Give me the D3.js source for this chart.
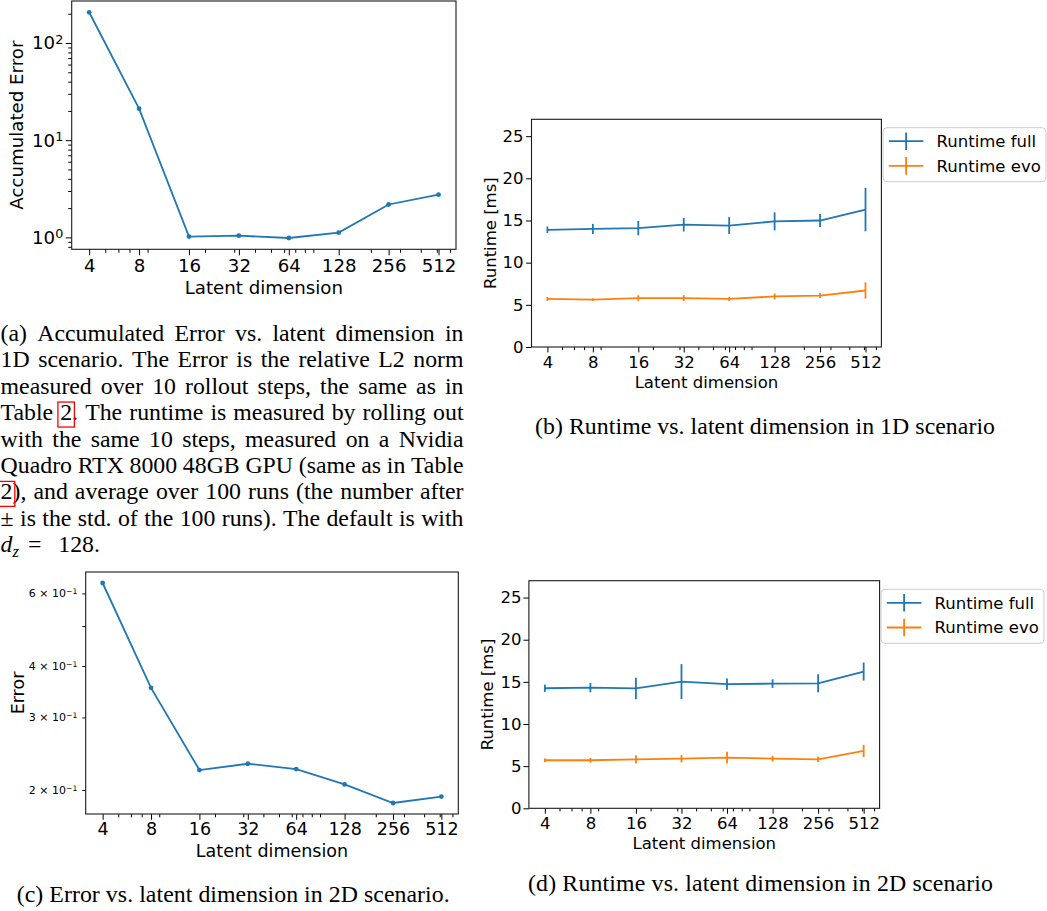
<!DOCTYPE html>
<html>
<head>
<meta charset="utf-8">
<script src="https://cdn.jsdelivr.net/npm/d3@7"></script>
<style>
  html, body { margin: 0; padding: 0; background: #fff; }
  svg { display: block; }
  .caption { font-family: "Liberation Serif", "Times New Roman", serif; fill: #000; }
</style>
</head>
<body>
<svg id="fig" width="1047" height="911"></svg>
<script>
// Latent-dimension ablation: error (log) and runtime (with std bars), 1D and 2D.

// --- data ---
const dims = [4, 8, 16, 32, 64, 128, 256, 512];
const dimLabels = ["4", "8", "16", "32", "64", "128", "256", "512"];

const accErr1D = [207, 21.1, 1.02, 1.04, 0.985, 1.12, 2.18, 2.75];
const err2D = [0.636, 0.354, 0.2236, 0.2316, 0.2248, 0.2064, 0.186, 0.1928];

const runFull1D = [13.9, 14.0, 14.1, 14.5, 14.4, 14.9, 15.0, 16.3];
const runFull1DStd = [0.38, 0.6, 0.85, 0.8, 1.0, 1.07, 0.77, 2.58];
const runEvo1D = [5.7, 5.62, 5.8, 5.8, 5.7, 6.0, 6.1, 6.7];
const runEvo1DStd = [0.24, 0.15, 0.33, 0.35, 0.25, 0.35, 0.3, 0.97];

const runFull2D = [14.24, 14.32, 14.22, 15.03, 14.72, 14.79, 14.83, 16.22];
const runFull2DStd = [0.43, 0.55, 1.27, 2.08, 0.67, 0.51, 1.07, 1.07];
const runEvo2D = [5.7, 5.7, 5.8, 5.89, 6.0, 5.89, 5.8, 6.8];
const runEvo2DStd = [0.22, 0.28, 0.5, 0.45, 0.7, 0.34, 0.32, 0.73];

const accTicks = [1, 10, 100];
const err2DTicks = [0.2, 0.3, 0.4, 0.5, 0.6];
const err2DLabeled = [0.2, 0.3, 0.4, 0.6];
const runtimeTicks = [0, 5, 10, 15, 20, 25];
const runtimeMax = 27;
const legendNames = ["Runtime full", "Runtime evo"];

const C0 = "#1f77b4", C1 = "#ff7f0e";
const SANS = '"DejaVu Sans", sans-serif';

// --- panel boxes (layout) ---
const boxA = { l: 71.7, r: 456, t: 1, b: 249.3, fs: 18.2, xTickC: 16.4, xLabC: 38, yLabX: 16, yGap: 8.4 };
const boxB = { l: 531.5, r: 881.4, t: 119.3, b: 347, fs: 16.5, xTickC: 14.7, xLabC: 34.7, yLabX: 490, yGap: 8.1 };
const boxC = { l: 85.7, r: 458.3, t: 572, b: 814, fs: 17.5, xTickC: 14.3, xLabC: 37, yLabX: 17.3, yGap: 8.4 };
const boxD = { l: 528.9, r: 879.6, t: 580.7, b: 808.3, fs: 16.5, xTickC: 14.4, xLabC: 34.4, yLabX: 486.6, yGap: 7.4 };

const svg = d3.select("#fig");

// --- helpers ---
function logPadDomain(vals, frac) {
  const lo = Math.log10(d3.min(vals)), hi = Math.log10(d3.max(vals));
  const p = (hi - lo) * frac;
  return [Math.pow(10, lo - p), Math.pow(10, hi + p)];
}
function minorLogTicks(domain, exclude) {
  const out = [];
  const k0 = Math.floor(Math.log10(domain[0])), k1 = Math.ceil(Math.log10(domain[1]));
  for (let k = k0; k <= k1; k++)
    for (let m = 2; m <= 9; m++) {
      const v = m * Math.pow(10, k);
      if (v >= domain[0] && v <= domain[1] && !exclude.some((e) => Math.abs(e - v) < 1e-9 * v)) out.push(v);
    }
  return out;
}
const xDomain = logPadDomain(dims, 0.05);

function styleAxis(ax, fs) {
  ax.select(".domain").remove();
  ax.selectAll(".tick line").attr("stroke", "#000").attr("stroke-width", 1);
  ax.selectAll(".tick text").style("font-size", fs + "px").style("font-family", SANS).attr("fill", "#000");
}

function xAxis(g, x, box) {
  const maj = 0.33 * box.fs, mnr = 0.19 * box.fs;
  const pad = box.xTickC - 0.346 * box.fs - maj;
  const ax = g.append("g").attr("transform", `translate(0,${box.b})`)
    .call(d3.axisBottom(x).tickValues(dims).tickFormat((d, i) => dimLabels[i]).tickSize(maj).tickPadding(pad));
  styleAxis(ax, box.fs);
  const mx = g.append("g").attr("transform", `translate(0,${box.b})`)
    .call(d3.axisBottom(x).tickValues(minorLogTicks(xDomain, dims)).tickFormat("").tickSize(mnr));
  styleAxis(mx, box.fs);
  g.append("text").attr("x", (box.l + box.r) / 2).attr("y", box.b + box.xLabC).attr("dy", "0.36em")
    .attr("text-anchor", "middle").style("font-family", SANS).style("font-size", box.fs + "px")
    .text("Latent dimension");
}

function yLabel(g, box, label) {
  g.append("text").attr("transform", `translate(${box.yLabX},${(box.t + box.b) / 2}) rotate(-90)`)
    .attr("dy", "0.36em").attr("text-anchor", "middle")
    .style("font-family", SANS).style("font-size", box.fs + "px").text(label);
}

// log y axis with "base^sup" labels
function yLogAxis(g, y, box, ticks, size, fs, labelParts) {
  const ax = g.append("g").attr("transform", `translate(${box.l},0)`)
    .call(d3.axisLeft(y).tickValues(ticks).tickSize(size).tickPadding(box.yGap - size).tickFormat(""));
  styleAxis(ax, fs);
  ax.selectAll(".tick text").each(function (d) {
    const parts = labelParts(d);
    if (!parts) return;
    const t = d3.select(this);
    t.append("tspan").text(parts[0]);
    t.append("tspan").attr("dy", "-0.45em").style("font-size", "0.7em").text(parts[1]);
  });
}

function frame(g, box) {
  g.append("rect").attr("x", box.l).attr("y", box.t)
    .attr("width", box.r - box.l).attr("height", box.b - box.t)
    .attr("fill", "none").attr("stroke", "#1a1a1a").attr("stroke-width", 1.1);
}

function lineWithDots(g, x, y, vals, color) {
  g.append("path").datum(vals)
    .attr("d", d3.line().x((d, i) => x(dims[i])).y((d) => y(d)))
    .attr("fill", "none").attr("stroke", color).attr("stroke-width", 1.8);
  g.selectAll(null).data(vals).enter().append("circle")
    .attr("cx", (d, i) => x(dims[i])).attr("cy", (d) => y(d)).attr("r", 2.4).attr("fill", color);
}

function errorSeries(g, x, y, vals, std, color) {
  g.append("path").datum(vals)
    .attr("d", d3.line().x((d, i) => x(dims[i])).y((d) => y(d)))
    .attr("fill", "none").attr("stroke", color).attr("stroke-width", 1.8);
  g.selectAll(null).data(vals).enter().append("line")
    .attr("x1", (d, i) => x(dims[i])).attr("x2", (d, i) => x(dims[i]))
    .attr("y1", (d, i) => y(d - std[i])).attr("y2", (d, i) => y(d + std[i]))
    .attr("stroke", color).attr("stroke-width", 1.8);
}

function legend(x0, y0, fs) {
  const g = svg.append("g");
  g.append("rect").attr("x", x0).attr("y", y0).attr("width", 163).attr("height", 54).attr("rx", 4)
    .attr("fill", "#fff").attr("fill-opacity", 0.8).attr("stroke", "#cccccc").attr("stroke-width", 1);
  const colors = [C0, C1];
  legendNames.forEach((name, i) => {
    const yy = y0 + 13.5 + i * 24.7;
    g.append("line").attr("x1", x0 + 5.8).attr("x2", x0 + 40.4).attr("y1", yy).attr("y2", yy)
      .attr("stroke", colors[i]).attr("stroke-width", 1.8);
    g.append("line").attr("x1", x0 + 23.1).attr("x2", x0 + 23.1).attr("y1", yy - 8.8).attr("y2", yy + 8.8)
      .attr("stroke", colors[i]).attr("stroke-width", 1.8);
    g.append("text").attr("x", x0 + 53.6).attr("y", yy).attr("dy", "0.36em")
      .style("font-family", SANS).style("font-size", fs + "px").text(name);
  });
}

function runtimePanel(box, full, fullStd, evo, evoStd, legX, legY) {
  const g = svg.append("g");
  const x = d3.scaleLog().domain(xDomain).range([box.l, box.r]);
  const y = d3.scaleLinear().domain([0, runtimeMax]).range([box.b, box.t]);
  const maj = 0.33 * box.fs;
  const ay = g.append("g").attr("transform", `translate(${box.l},0)`)
    .call(d3.axisLeft(y).tickValues(runtimeTicks).tickSize(maj).tickPadding(box.yGap - maj));
  styleAxis(ay, box.fs);
  xAxis(g, x, box);
  yLabel(g, box, "Runtime [ms]");
  errorSeries(g, x, y, full, fullStd, C0);
  errorSeries(g, x, y, evo, evoStd, C1);
  frame(g, box);
  legend(legX, legY, box.fs);
}

// --- (a) accumulated error, 1D ---
{
  const box = boxA, g = svg.append("g");
  const x = d3.scaleLog().domain(xDomain).range([box.l, box.r]);
  const yDom = logPadDomain(accErr1D, 0.05);
  const y = d3.scaleLog().domain(yDom).range([box.b, box.t]);
  yLogAxis(g, y, box, accTicks, 0.33 * box.fs, box.fs, (d) => ["10", String(Math.round(Math.log10(d)))]);
  yLogAxis(g, y, box, minorLogTicks(yDom, accTicks), 0.19 * box.fs, box.fs, () => null);
  xAxis(g, x, box);
  yLabel(g, box, "Accumulated Error");
  lineWithDots(g, x, y, accErr1D, C0);
  frame(g, box);
}

// --- (b) runtime, 1D ---
runtimePanel(boxB, runFull1D, runFull1DStd, runEvo1D, runEvo1DStd, 883, 127.7);

// --- (c) error, 2D ---
{
  const box = boxC, g = svg.append("g");
  const x = d3.scaleLog().domain(xDomain).range([box.l, box.r]);
  const yDom = logPadDomain(err2D, 0.05);
  const y = d3.scaleLog().domain(yDom).range([box.b, box.t]);
  yLogAxis(g, y, box, err2DTicks, 0.19 * box.fs, 11, (d) =>
    err2DLabeled.includes(d) ? [Math.round(d * 10) + " \u00d7 10", "\u22121"] : null);
  xAxis(g, x, box);
  yLabel(g, box, "Error");
  lineWithDots(g, x, y, err2D, C0);
  frame(g, box);
}

// --- (d) runtime, 2D ---
runtimePanel(boxD, runFull2D, runFull2DStd, runEvo2D, runEvo2DStd, 881, 589.3);

// --- captions ---
const CAP_FS = 23.8;
const capG = svg.append("g");

const captionA = [
  "(a) Accumulated Error vs. latent dimension in",
  "1D scenario. The Error is the relative L2 norm",
  "measured over 10 rollout steps, the same as in",
  "Table {2}. The runtime is measured by rolling out",
  "with the same 10 steps, measured on a Nvidia",
  "Quadro RTX 8000 48GB GPU (same as in Table",
  "{2}), and average over 100 runs (the number after",
  "\u00b1 is the std. of the 100 runs). The default is with",
];

function justifiedLine(str, y, x0, x1) {
  const words = str.split(" ");
  const t = capG.append("text").attr("class", "caption").attr("y", y).style("font-size", CAP_FS + "px");
  const pieces = words.map((w) => {
    const m = w.match(/^\{(.+?)\}(.*)$/);
    return m ? [{ s: m[1], link: true }, { s: m[2] }] : [{ s: w }];
  });
  const probe = t.append("tspan");
  const widthOf = (s) => { if (!s) return 0; probe.text(s); return probe.node().getComputedTextLength(); };
  const wordW = pieces.map((p) => d3.sum(p, (q) => (q.w = widthOf(q.s))));
  probe.remove();
  const gap = (x1 - x0 - d3.sum(wordW)) / (words.length - 1);
  let cx = x0;
  pieces.forEach((p, i) => {
    let px = cx;
    p.forEach((q) => {
      if (!q.s) return;
      t.append("tspan").attr("x", px).text(q.s);
      if (q.link)
        capG.append("rect").attr("x", px - 2.3).attr("y", y - 18).attr("width", q.w + 4.6).attr("height", 25)
          .attr("fill", "none").attr("stroke", "#ff0000").attr("stroke-width", 1.3);
      px += q.w;
    });
    cx += wordW[i] + gap;
  });
}

const capBase = 340.7, capLead = 26.45;
captionA.forEach((line, i) => justifiedLine(line, capBase + i * capLead, 0.6, 463.5));

// last line: d_z = 128.
{
  const y = capBase + captionA.length * capLead;
  const t = capG.append("text").attr("class", "caption").attr("y", y).style("font-size", CAP_FS + "px");
  t.append("tspan").attr("x", 0.6).style("font-style", "italic").text("d");
  t.append("tspan").attr("dy", 5).style("font-style", "italic").style("font-size", "0.7em").text("z");
  t.append("tspan").attr("x", 28).attr("dy", -5).text("=");
  t.append("tspan").attr("x", 58.3).text("128.");
}

function singleCaption(str, x, y, len) {
  capG.append("text").attr("class", "caption").attr("x", x).attr("y", y)
    .style("font-size", CAP_FS + "px").attr("textLength", len).attr("lengthAdjust", "spacing").text(str);
}
singleCaption("(b) Runtime vs. latent dimension in 1D scenario", 535, 434, 460);
singleCaption("(c) Error vs. latent dimension in 2D scenario.", 16.7, 902, 433);
singleCaption("(d) Runtime vs. latent dimension in 2D scenario", 528, 891, 465);
</script>
</body>
</html>
